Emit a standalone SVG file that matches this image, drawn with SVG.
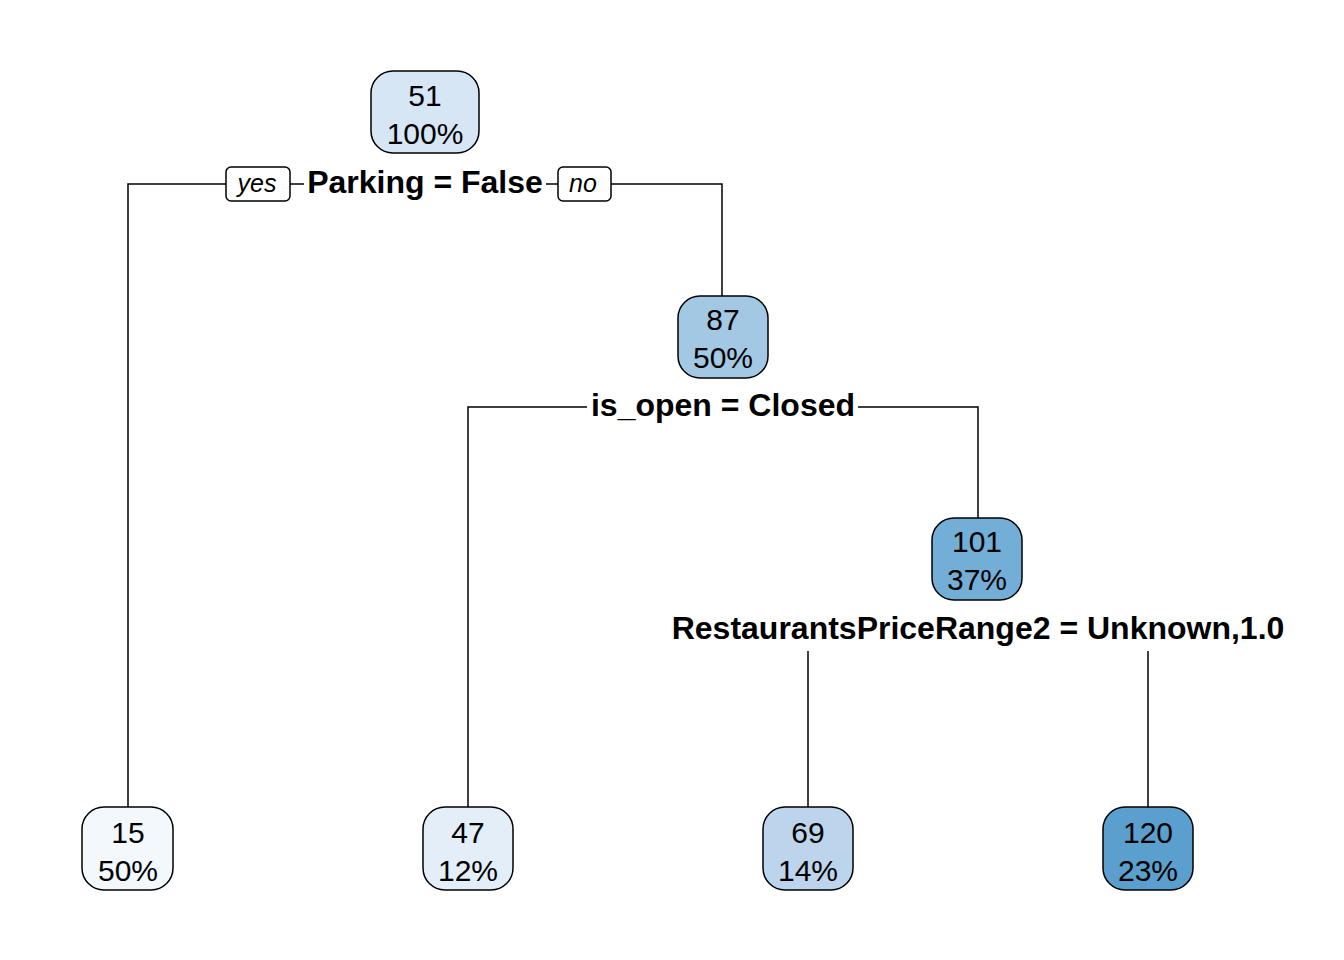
<svg xmlns="http://www.w3.org/2000/svg" width="1344" height="960" viewBox="0 0 1344 960">
<style>
.box{stroke:#000;stroke-width:1.5}
.nt{font-family:"Liberation Sans",Arial,sans-serif;font-size:30px;text-anchor:middle;fill:#000}
.lbl{font-family:"Liberation Sans",Arial,sans-serif;font-size:32px;font-weight:bold;text-anchor:middle;fill:#000}
.yn{font-family:"Liberation Sans",Arial,sans-serif;font-size:25px;font-style:italic;text-anchor:middle;fill:#000}
.ln{stroke:#000;stroke-width:1.5;fill:none}
</style>
<rect width="1344" height="960" fill="#fff"/>
<g id="connectors">
<path class="ln" d="M128,807 V184 H226"/>
<path class="ln" d="M290,184 H304"/>
<path class="ln" d="M546,184 H558"/>
<path class="ln" d="M611,184 H722 V296"/>
<path class="ln" d="M468,807 V407 H587"/>
<path class="ln" d="M858,407 H978 V518"/>
<path class="ln" d="M808,651 V807"/>
<path class="ln" d="M1148,651 V807"/>
</g>
<g id="yes-label">
<rect class="box" x="226" y="167" width="64" height="34" rx="5" fill="#fff"/>
<text class="yn" x="257" y="192">yes</text>
</g>
<g id="no-label">
<rect class="box" x="558" y="167" width="53" height="34" rx="5" fill="#fff"/>
<text class="yn" x="583" y="192">no</text>
</g>
<g id="split1"><text class="lbl" x="425" y="193">Parking = False</text></g>
<g id="split2"><text class="lbl" x="723" y="416">is_open = Closed</text></g>
<g id="split3"><text class="lbl" x="978" y="639">RestaurantsPriceRange2 = Unknown,1.0</text></g>
<g id="node-root">
<rect class="box" x="371" y="71" width="108" height="82" rx="22" fill="#d6e6f4"/>
<text class="nt" x="425" y="106">51</text>
<text class="nt" x="425" y="144">100%</text>
</g>
<g id="node-87">
<rect class="box" x="678" y="296" width="90" height="82" rx="22" fill="#a3c8e3"/>
<text class="nt" x="723" y="330">87</text>
<text class="nt" x="723" y="368">50%</text>
</g>
<g id="node-101">
<rect class="box" x="932" y="518" width="90" height="82" rx="22" fill="#72aed5"/>
<text class="nt" x="977" y="552">101</text>
<text class="nt" x="977" y="590">37%</text>
</g>
<g id="leaf-15">
<rect class="box" x="82" y="807" width="91" height="83" rx="22" fill="#f3f8fd"/>
<text class="nt" x="128" y="843">15</text>
<text class="nt" x="128" y="881">50%</text>
</g>
<g id="leaf-47">
<rect class="box" x="423" y="807" width="90" height="83" rx="22" fill="#e3eef9"/>
<text class="nt" x="468" y="843">47</text>
<text class="nt" x="468" y="881">12%</text>
</g>
<g id="leaf-69">
<rect class="box" x="763" y="807" width="90" height="83" rx="22" fill="#bcd4ec"/>
<text class="nt" x="808" y="843">69</text>
<text class="nt" x="808" y="881">14%</text>
</g>
<g id="leaf-120">
<rect class="box" x="1103" y="807" width="90" height="83" rx="22" fill="#5a9fcd"/>
<text class="nt" x="1148" y="843">120</text>
<text class="nt" x="1148" y="881">23%</text>
</g>
</svg>
